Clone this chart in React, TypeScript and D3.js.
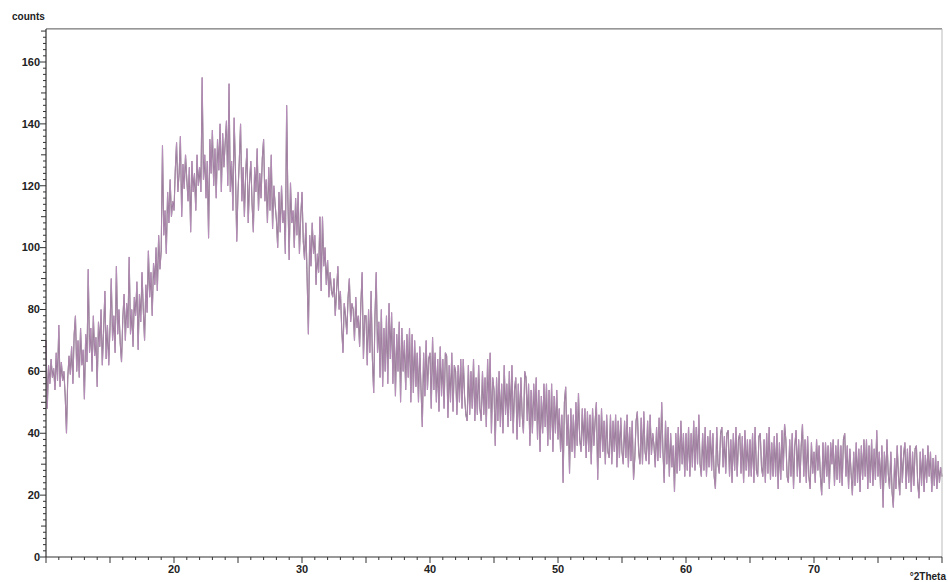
import React from 'react';
import * as d3 from 'd3';

// scan start / step (°2Theta)
const thetaStart = 10;
const thetaStep = 0.1;

// counts, one row per degree (10.0 .. 79.9) + 80.0
const counts: number[] = [
  70, 48, 62, 56, 64, 58, 61, 54, 66, 57,
  75, 55, 63, 57, 60, 52, 40, 58, 65, 59,
  68, 56, 72, 78, 60, 70, 58, 74, 62, 67,
  51, 72, 63, 93, 66, 74, 60, 78, 65, 71,
  55, 76, 68, 80, 62, 73, 86, 64, 75, 62,
  74, 90, 70, 78, 66, 94, 72, 80, 69, 63,
  77, 85, 70, 82, 74, 97, 72, 80, 68, 84,
  78, 89, 67, 85, 76, 92, 80, 70, 88, 79,
  99, 84, 92, 78, 95, 88, 100, 86, 104, 93,
  99, 133, 104, 112, 98, 118, 108, 122, 110, 115,
  112, 125, 134, 118, 124, 136, 110, 127, 119, 130,
  122, 115, 126, 105, 128, 118, 124, 112, 130, 120,
  126, 118, 155, 122, 130, 116, 128, 103, 135, 124,
  138, 120, 132, 116, 135, 125, 140, 118, 137, 126,
  134, 141, 120, 153, 118, 128, 112, 142, 125, 102,
  118, 128, 140, 115, 126, 110, 124, 132, 108, 121,
  128, 114, 105, 126, 118, 132, 112, 124, 116, 129,
  135, 115, 122, 108, 126, 112, 130, 106, 120, 114,
  109, 100, 118, 105, 120, 108, 112, 98, 146, 115,
  96, 121, 108, 112, 100, 116, 104, 118, 98, 110,
  118, 102, 96, 108, 90, 72, 104, 94, 108, 98,
  104, 88, 98, 92, 110, 86, 110, 94, 100, 88,
  96, 84, 92, 86, 84, 90, 78, 86, 94, 80,
  86, 74, 66, 82, 78, 72, 84, 90, 76, 82,
  80, 70, 84, 74, 78, 68, 82, 92, 64, 78,
  78, 62, 80, 66, 86, 64, 53, 78, 92, 66,
  76, 58, 80, 55, 74, 60, 78, 56, 82, 64,
  79, 56, 74, 52, 72, 60, 76, 50, 74, 60,
  70, 54, 72, 58, 74, 50, 72, 53, 70, 55,
  66, 50, 68, 54, 42, 66, 52, 70, 54, 64,
  66, 48, 71, 54, 66, 50, 64, 47, 68, 52,
  64, 48, 66, 65, 45, 62, 50, 66, 47, 62,
  60, 46, 62, 50, 64, 48, 64, 52, 46, 44,
  62, 46, 60, 48, 64, 44, 58, 46, 62, 48,
  44, 60, 46, 58, 42, 64, 48, 66, 40, 58,
  54, 36, 58, 44, 60, 42, 56, 40, 62, 46,
  56, 42, 60, 44, 62, 40, 54, 58, 38, 56,
  42, 58, 46, 40, 60, 58, 44, 56, 36, 54,
  40, 56, 44, 58, 38, 54, 34, 52, 40, 56,
  42, 56, 36, 54, 38, 56, 34, 52, 40, 54,
  38, 48, 34, 46, 24, 50, 55, 36, 46, 27,
  48, 34, 46, 32, 50, 36, 53, 38, 34, 48,
  36, 48, 32, 47, 34, 46, 30, 48, 36, 44,
  50, 25, 46, 32, 48, 34, 44, 30, 46, 34,
  32, 46, 30, 44, 34, 46, 29, 44, 32, 45,
  34, 30, 44, 32, 46, 29, 42, 31, 44, 25,
  32, 44, 47, 34, 30, 45, 30, 47, 34, 31,
  44, 30, 46, 33, 40, 36, 29, 42, 31, 45,
  32, 50, 34, 24, 44, 30, 42, 26, 40, 29,
  36, 21, 40, 27, 42, 28, 44, 30, 40, 26,
  40, 28, 42, 26, 40, 29, 44, 28, 42, 30,
  46, 30, 26, 40, 28, 42, 26, 39, 29, 41,
  28, 40, 26, 22, 42, 30, 27, 40, 42, 29,
  39, 27, 40, 41, 26, 38, 24, 40, 28, 42,
  26, 38, 40, 27, 39, 24, 41, 28, 38, 26,
  38, 26, 40, 24, 42, 28, 26, 39, 40, 29,
  26, 38, 24, 40, 27, 42, 25, 37, 26, 39,
  26, 40, 22, 37, 25, 41, 28, 43, 38, 26,
  24, 38, 26, 40, 22, 36, 41, 26, 38, 24,
  36, 43, 26, 38, 24, 39, 26, 22, 37, 27,
  34, 24, 38, 28, 36, 26, 20, 37, 24, 37,
  26, 36, 22, 37, 30, 38, 23, 36, 25, 38,
  24, 36, 23, 38, 40, 26, 36, 22, 35, 27,
  20, 34, 23, 37, 24, 35, 21, 36, 25, 38,
  26, 38, 22, 36, 24, 38, 23, 35, 25, 41,
  26, 34, 22, 36, 16, 34, 24, 38, 27, 22,
  34, 21, 16, 32, 22, 36, 26, 20, 36, 24,
  33, 37, 22, 35, 24, 36, 21, 34, 23, 35,
  36, 24, 19, 34, 23, 35, 21, 33, 24, 36,
  26, 34, 21, 32, 23, 33, 22, 31, 24, 29,
  26,
];

const xLabels = [20, 30, 40, 50, 60, 70];
const yLabels = [0, 20, 40, 60, 80, 100, 120, 140, 160];

const W = 948;
const H = 582;

const App = () => {
  const x = d3.scaleLinear().domain([10, 80]).range([46, 942]);
  const y = d3.scaleLinear().domain([0, 160]).range([557, 62]);
  const yTop = y(170.7);

  const pts: [number, number][] = counts.map((c, i) => [thetaStart + i * thetaStep, c]);
  const line = d3.line<[number, number]>()
    .x(d => x(d[0]))
    .y(d => y(d[1]));
  const path = line(pts) || '';

  const xTicks = d3.range(10, 81, 1);
  const yTicks = d3.range(0, 171, 2);
  const font = '"Liberation Sans", Arial, sans-serif';

  return (
    <svg width={W} height={H} style={{ position: 'absolute', left: 0, top: 0, background: '#fff' }}>
      {/* data trace: dark base with pink/purple overprint */}
      <path d={path} fill="none" stroke="#58565a" strokeWidth={1.1} />
      <path d={path} fill="none" stroke="#d69dc9" strokeWidth={0.9} opacity={0.8} />
      <path d={path} fill="none" stroke="#8f7cc0" strokeWidth={0.5} opacity={0.3} />

      {/* frame */}
      <line x1={x(10)} x2={x(80)} y1={yTop} y2={yTop} stroke="#555" strokeWidth={1} />
      <line x1={x(80)} x2={x(80)} y1={yTop} y2={y(0)} stroke="#bbb" strokeWidth={1} />
      <line x1={x(10)} x2={x(10)} y1={yTop} y2={y(0)} stroke="#333" strokeWidth={1.2} />
      <line x1={x(10)} x2={x(80)} y1={y(0)} y2={y(0)} stroke="#333" strokeWidth={1.2} />

      {/* x ticks */}
      {xTicks.map(t => (
        <line key={'xt' + t} x1={x(t)} x2={x(t)} y1={y(0)}
          y2={y(0) + (t % 5 === 0 ? 6 : 3)} stroke="#333" strokeWidth={1} />
      ))}
      {xLabels.map(t => (
        <text key={'xl' + t} x={x(t)} y={y(0) + 16} textAnchor="middle"
          fontFamily={font} fontWeight="bold" fontSize={11} fill="#222">{t}</text>
      ))}

      {/* y ticks */}
      {yTicks.map(t => (
        <line key={'yt' + t} x1={x(10)} x2={x(10) - (t % 20 === 0 ? 6 : t % 10 === 0 ? 5 : 3)}
          y1={y(t)} y2={y(t)} stroke="#333" strokeWidth={1} />
      ))}
      {yLabels.map(t => (
        <text key={'yl' + t} x={x(10) - 6} y={y(t)} dy="0.35em" textAnchor="end"
          fontFamily={font} fontWeight="bold" fontSize={11} fill="#222">{t}</text>
      ))}

      <text x={12} y={20} fontFamily={font} fontWeight="bold" fontSize={10} fill="#222">counts</text>
      <text x={946} y={580} textAnchor="end" fontFamily={font} fontWeight="bold" fontSize={10} fill="#222">°2Theta</text>
    </svg>
  );
};

export default App;
